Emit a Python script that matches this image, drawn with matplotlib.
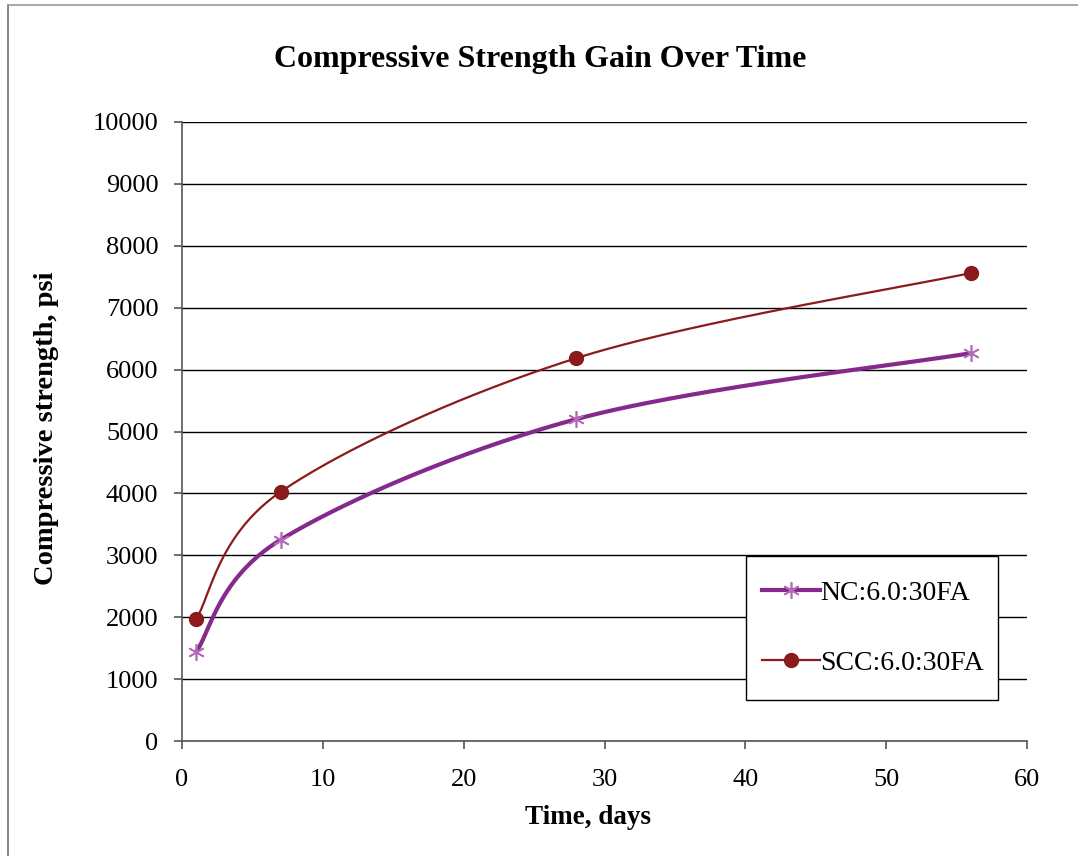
import numpy as np
import matplotlib
matplotlib.use("Agg")
import matplotlib.pyplot as plt
from matplotlib.lines import Line2D
from matplotlib.patches import Rectangle

# Test ages and measured compressive strengths
days = [1, 7, 28, 56]
nc_strength = [1440, 3250, 5200, 6265]
scc_strength = [1970, 4025, 6185, 7560]
series_labels = ["NC:6.0:30FA", "SCC:6.0:30FA"]

x_ticks = [0, 10, 20, 30, 40, 50, 60]
y_ticks = list(range(0, 10001, 1000))

plt.rcParams["font.family"] = ["Liberation Serif", "DejaVu Serif"]

NC_LINE = "#852A8C"
NC_MARK = "#B36AB8"
SCC_COLOR = "#8B1A1A"

W, H = 1078, 856


def smooth(x, y, n=80):
    """Bezier smoothing through the points (Catmull-Rom style control points)."""
    pts = np.column_stack([x, y]).astype(float)
    out = [pts[0]]
    t = np.linspace(0, 1, n)[1:, None]
    for i in range(len(pts) - 1):
        p0 = pts[i - 1] if i > 0 else pts[i]
        p1, p2 = pts[i], pts[i + 1]
        p3 = pts[i + 2] if i + 2 < len(pts) else pts[i + 1]
        c1 = p1 + (p2 - p0) / 6.0
        c2 = p2 - (p3 - p1) / 6.0
        seg = ((1 - t) ** 3) * p1 + 3 * ((1 - t) ** 2) * t * c1 \
            + 3 * (1 - t) * t ** 2 * c2 + t ** 3 * p2
        out.extend(seg)
    out = np.array(out)
    return out[:, 0], out[:, 1]


fig = plt.figure(figsize=(W / 100, H / 100), dpi=100)
ax = fig.add_axes([182 / W, 1 - 741 / H, 845 / W, 619 / H])

# Outer chart border (left and top edges)
fig.add_artist(Line2D([8 / W, 8 / W], [0, 1 - 5 / H],
                      transform=fig.transFigure, color="#6e6e6e", lw=1.2))
fig.add_artist(Line2D([8 / W, 1], [1 - 5 / H, 1 - 5 / H],
                      transform=fig.transFigure, color="#9a9a9a", lw=1.2))

sx, sy = smooth(days, nc_strength)
ax.plot(sx, sy, color=NC_LINE, lw=3.0, solid_capstyle="round", zorder=3)
ax.plot(days, nc_strength, ls="none", marker=(6, 2, 0), ms=12,
        mec=NC_MARK, mew=1.2, zorder=4)

sx, sy = smooth(days, scc_strength)
ax.plot(sx, sy, color=SCC_COLOR, lw=1.6, zorder=3)
ax.plot(days, scc_strength, ls="none", marker="o", ms=10,
        mfc=SCC_COLOR, mec=SCC_COLOR, zorder=4)

ax.set_xlim(0, 60)
ax.set_ylim(0, 10000)
ax.set_xticks(x_ticks)
ax.set_yticks(y_ticks)
ax.yaxis.grid(True, color="black", lw=1.0)
ax.set_axisbelow(True)
for side in ("top", "right"):
    ax.spines[side].set_visible(False)
for side in ("left", "bottom"):
    ax.spines[side].set_color("#555555")
    ax.spines[side].set_linewidth(1.2)
ax.tick_params(axis="both", direction="out", length=6, width=1.2,
               color="#555555", labelsize=19)
ax.tick_params(axis="y", pad=11)
ax.tick_params(axis="x", pad=14)

fig.text(588 / W, 1 - 818 / H, "Time, days", ha="center", va="center",
         fontsize=19.5, fontweight="bold")
fig.text(47 / W, 1 - 428 / H, "Compressive strength, psi", ha="center",
         va="center", rotation=90, fontsize=20.5, fontweight="bold")
fig.text(540 / W, 1 - 60 / H, "Compressive Strength Gain Over Time",
         ha="center", va="center", fontsize=23, fontweight="bold")

# Legend box
lx0, ly0, lw_, lh_ = 746 / W, 1 - 700 / H, 252 / W, 144 / H
fig.add_artist(Rectangle((lx0, ly0), lw_, lh_, transform=fig.transFigure,
                         facecolor="white", edgecolor="black", lw=1.0,
                         zorder=5))
handles = [
    Line2D([], [], color=NC_LINE, lw=3.0, marker=(6, 2, 0), ms=12,
           mec=NC_MARK, mew=1.2),
    Line2D([], [], color=SCC_COLOR, lw=1.6, marker="o", ms=10,
           mfc=SCC_COLOR, mec=SCC_COLOR),
]
leg = fig.legend(handles, series_labels, loc="center left",
                 bbox_to_anchor=(751 / W, 1 - 628 / H),
                 frameon=False, fontsize=20, handlelength=2.1,
                 handletextpad=0.0, labelspacing=1.6, borderaxespad=0)
leg.set_zorder(6)

fig.savefig("out.png", dpi=100, facecolor="white")
